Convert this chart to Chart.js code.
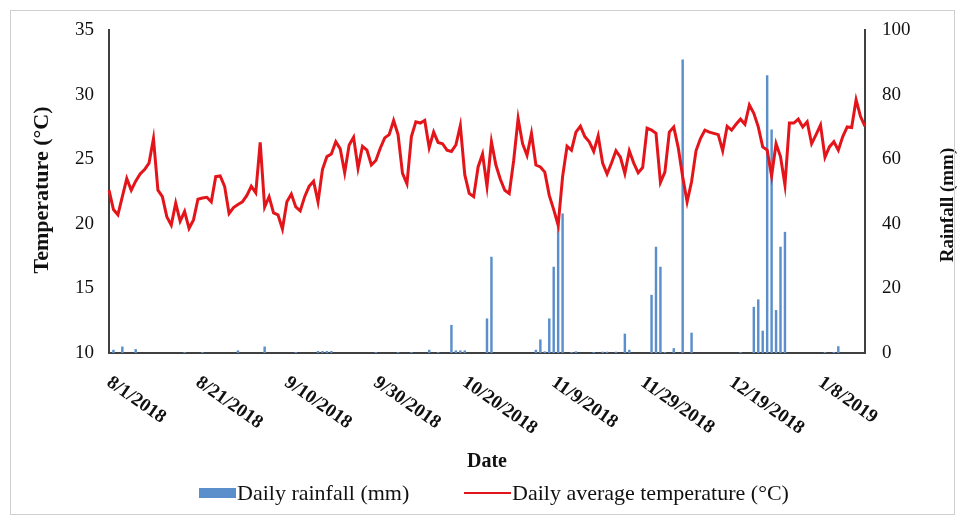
<!DOCTYPE html>
<html>
<head>
<meta charset="utf-8">
<script src="https://cdn.jsdelivr.net/npm/chart.js@4.4.1/dist/chart.umd.min.js"></script>
<style>
  html, body { margin: 0; padding: 0; background: #fff; }
  #wrap { width: 964px; height: 521px; position: relative; }
</style>
</head>
<body>
<div id="wrap"><canvas id="chart" width="964" height="521"></canvas></div>
<script>
// first day of the series and how many daily records there are
const startDay = new Date(2018, 7, 1);
const dayCount = 171;

const tickLabels = ['8/1/2018', '8/21/2018', '9/10/2018', '9/30/2018', '10/20/2018',
  '11/9/2018', '11/29/2018', '12/19/2018', '1/8/2019'];

// daily average temperature (°C)
const temperature = [
  22.6, 21.1, 20.7, 22.1, 23.5, 22.6, 23.3, 23.85, 24.2, 24.7,
  26.6, 22.6, 22.1, 20.55, 19.9, 21.6, 20.2, 20.95, 19.65, 20.3,
  21.9, 22.0, 22.05, 21.7, 23.65, 23.7, 22.9, 20.8, 21.25, 21.5,
  21.7, 22.2, 22.9, 22.4, 26.3, 21.3, 22.1, 20.85, 20.7, 19.6,
  21.7, 22.3, 21.3, 21.0, 22.1, 22.9, 23.3, 21.7, 24.2, 25.2,
  25.4, 26.35, 25.8, 23.95, 26.1, 26.7, 24.3, 26.0, 25.7, 24.55,
  24.9, 25.85, 26.65, 26.9, 28.0, 26.9, 23.9, 23.1, 26.75, 27.9,
  27.8, 28.0, 25.9, 27.1, 26.3, 26.2, 25.7, 25.6, 26.1, 27.6,
  23.8, 22.35, 22.1, 24.4, 25.4, 22.9, 26.35, 24.55, 23.45, 22.6,
  22.35, 24.9, 28.15, 26.2, 25.3, 27.0, 24.55, 24.4, 24.0, 22.2,
  21.1, 19.9, 23.65, 26.0, 25.7, 27.1, 27.55, 26.75, 26.35, 25.6,
  26.8, 24.7, 23.85, 24.7, 25.65, 25.15, 23.9, 25.65, 24.7, 23.95,
  24.35, 27.4, 27.25, 27.0, 23.2, 24.0, 27.1, 27.5, 25.9, 23.65,
  21.7, 23.25, 25.65, 26.6, 27.25, 27.1, 27.0, 26.9, 25.65, 27.55,
  27.25, 27.7, 28.1, 27.7, 29.2, 28.55, 27.5, 25.95, 25.7, 23.7,
  26.2, 25.2, 23.0, 27.8, 27.8, 28.1, 27.5, 27.9, 26.2, 26.9,
  27.65, 25.15, 25.95, 26.35, 25.7, 26.75, 27.5, 27.45, 29.6, 28.3,
  27.55
];

// daily rainfall (mm)
const rainfall = [
  0, 1.0, 0, 2.0, 0, 0, 1.2, 0, 0, 0,
  0, 0, 0, 0, 0, 0, 0, 0.3, 0, 0,
  0, 0.3, 0, 0, 0, 0, 0, 0, 0, 0.8,
  0, 0, 0, 0, 0, 2.0, 0, 0, 0, 0,
  0, 0, 0.3, 0, 0, 0, 0, 0.6, 0.6, 0.6,
  0.6, 0, 0, 0, 0, 0, 0, 0, 0, 0,
  0.3, 0, 0, 0, 0, 0.3, 0, 0, 0.3, 0,
  0, 0, 1.0, 0, 0.3, 0, 0, 8.7, 0.8, 0.8,
  0.8, 0, 0, 0, 0, 10.7, 29.8, 0, 0, 0,
  0, 0, 0, 0, 0, 0, 1.0, 4.2, 0.5, 10.7,
  26.7, 42.2, 43.2, 0, 0.3, 0.5, 0, 0, 0, 0.3,
  0, 0.4, 0.4, 0, 0.4, 0, 6.0, 1.0, 0, 0,
  0, 0, 18.0, 32.9, 26.7, 0.3, 0, 1.5, 0, 90.9,
  0, 6.3, 0, 0, 0, 0, 0, 0, 0, 0,
  0, 0, 0.3, 0, 0, 14.3, 16.6, 6.9, 86.0, 69.2,
  13.3, 32.9, 37.5, 0, 0, 0, 0, 0, 0, 0,
  0, 0.3, 0, 0.3, 2.1, 0, 0, 0, 0, 0,
  0
];

const dates = [];
for (let i = 0; i < dayCount; i++) {
  const d = new Date(startDay.getFullYear(), startDay.getMonth(), startDay.getDate() + i);
  dates.push((d.getMonth() + 1) + '/' + d.getDate() + '/' + d.getFullYear());
}

const serif = '"Liberation Serif", "Times New Roman", serif';
const axisColor = '#404040';
const rainColor = '#5b8fcc';
const tempColor = '#e3151b';

// draws the slanted date labels, axis titles, legend and outer frame
const decor = {
  id: 'decor',
  afterDraw(chart) {
    const ctx = chart.ctx;
    const xs = chart.scales.x;
    const area = chart.chartArea;
    ctx.save();

    ctx.fillStyle = '#111';
    ctx.font = 'bold 19px ' + serif;
    ctx.textAlign = 'left';
    ctx.textBaseline = 'top';
    tickLabels.forEach(t => {
      const px = xs.getPixelForValue(dates.indexOf(t));
      ctx.save();
      ctx.translate(px + 5, area.bottom + 20);
      ctx.rotate(35 * Math.PI / 180);
      ctx.fillText(t, 0, 0);
      ctx.restore();
    });

    ctx.textAlign = 'center';
    ctx.textBaseline = 'middle';
    ctx.font = 'bold 20px ' + serif;
    ctx.fillText('Date', (area.left + area.right) / 2, 462);

    ctx.font = 'bold 22px ' + serif;
    ctx.save();
    ctx.translate(42, 190);
    ctx.rotate(-Math.PI / 2);
    ctx.fillText('Temperature (°C)', 0, 0);
    ctx.restore();
    ctx.font = 'bold 19px ' + serif;
    ctx.save();
    ctx.translate(948, 205);
    ctx.rotate(-Math.PI / 2);
    ctx.fillText('Rainfall (mm)', 0, 0);
    ctx.restore();

    // legend
    ctx.font = '22px ' + serif;
    ctx.textAlign = 'left';
    ctx.fillStyle = rainColor;
    ctx.fillRect(199, 488, 37, 10);
    ctx.fillStyle = '#111';
    ctx.fillText('Daily rainfall (mm)', 237, 494);
    ctx.strokeStyle = tempColor;
    ctx.lineWidth = 2;
    ctx.beginPath();
    ctx.moveTo(464, 493);
    ctx.lineTo(511, 493);
    ctx.stroke();
    ctx.fillText('Daily average temperature (°C)', 512, 494);

    ctx.strokeStyle = '#cfcfcf';
    ctx.lineWidth = 1;
    ctx.strokeRect(10.5, 10.5, 944, 504);
    ctx.restore();
  }
};

new Chart(document.getElementById('chart'), {
  type: 'bar',
  data: {
    labels: dates,
    datasets: [
      {
        type: 'line',
        label: 'Daily average temperature (°C)',
        data: temperature,
        yAxisID: 'y',
        borderColor: tempColor,
        borderWidth: 3,
        pointRadius: 0,
        tension: 0,
        order: 0
      },
      {
        type: 'bar',
        label: 'Daily rainfall (mm)',
        data: rainfall,
        yAxisID: 'y1',
        backgroundColor: rainColor,
        barPercentage: 0.55,
        categoryPercentage: 1,
        order: 1
      }
    ]
  },
  options: {
    responsive: false,
    animation: false,
    layout: { padding: { top: 30, bottom: 168, left: 0, right: 0 } },
    plugins: { legend: { display: false }, tooltip: { enabled: false } },
    scales: {
      x: {
        offset: false,
        grid: { display: false, drawTicks: false },
        border: { color: axisColor, width: 2 },
        ticks: { display: false },
        afterFit: s => { s.height = 0; }
      },
      y: {
        position: 'left',
        min: 10, max: 35,
        grid: { display: false, drawTicks: false },
        border: { color: axisColor, width: 2 },
        ticks: { stepSize: 5, padding: 15, color: '#111', font: { family: serif, size: 19 } },
        afterFit: s => { s.width = 109; }
      },
      y1: {
        position: 'right',
        min: 0, max: 100,
        grid: { display: false, drawTicks: false },
        border: { color: axisColor, width: 2 },
        ticks: { stepSize: 20, padding: 17, color: '#111', font: { family: serif, size: 19 } },
        afterFit: s => { s.width = 99; }
      }
    }
  },
  plugins: [decor]
});
</script>
</body>
</html>
